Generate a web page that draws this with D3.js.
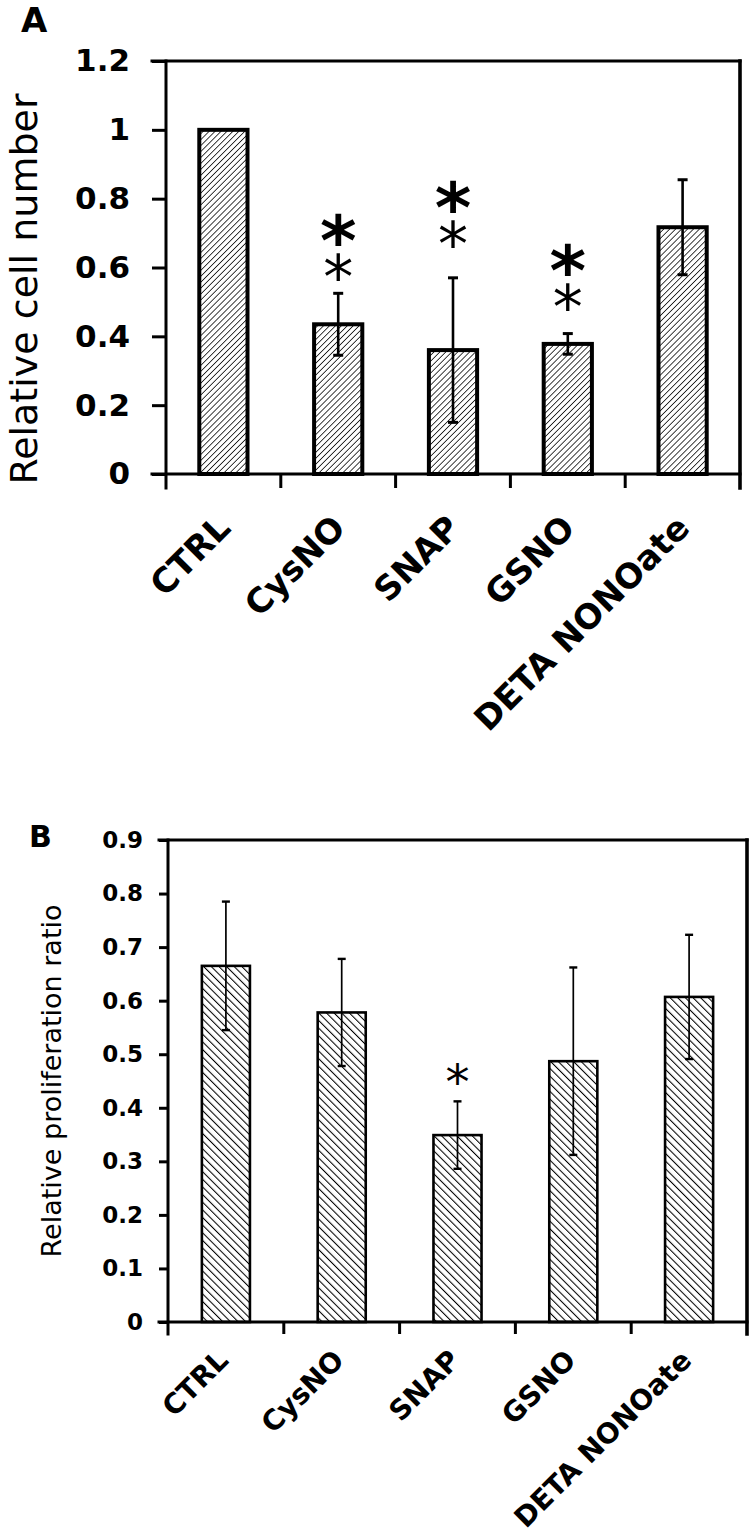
<!DOCTYPE html>
<html><head><meta charset="utf-8">
<script src="https://cdn.jsdelivr.net/npm/d3@7"></script>
<style>body{margin:0;background:#fff}svg{display:block}</style>
</head><body>
<script>
const categories = ["CTRL", "CysNO", "SNAP", "GSNO", "DETA NONOate"];

// Panel A: relative cell number
const cellNumber = [1.0, 0.435, 0.36, 0.378, 0.717];
const cellNumberErr = [0, 0.09, 0.21, 0.03, 0.138];
const cellSigStars = [0, 2, 2, 2, 0];
const cellSigLevel = [null, 0.607, 0.703, 0.52, null];
const cellTicks = [0, 0.2, 0.4, 0.6, 0.8, 1, 1.2];
const cellTickLabels = ["0", "0.2", "0.4", "0.6", "0.8", "1", "1.2"];

// Panel B: relative proliferation ratio
const prolif = [0.665, 0.578, 0.349, 0.487, 0.607];
const prolifErr = [0.12, 0.1, 0.063, 0.175, 0.116];
const prolifSigStars = [0, 0, 1, 0, 0];
const prolifSigLevel = [null, null, 0.465, null, null];
const prolifTicks = [0, 0.1, 0.2, 0.3, 0.4, 0.5, 0.6, 0.7, 0.8, 0.9];
const prolifTickLabels = ["0", "0.1", "0.2", "0.3", "0.4", "0.5", "0.6", "0.7", "0.8", "0.9"];

const W = 750, H = 1538;
const svg = d3.select("body").append("svg").attr("width", W).attr("height", H);
const defs = svg.append("defs");

function hatch(id, angle, spacing, sw) {
  const p = defs.append("pattern").attr("id", id).attr("patternUnits", "userSpaceOnUse")
    .attr("width", spacing).attr("height", spacing)
    .attr("patternTransform", `rotate(${angle})`);
  p.append("rect").attr("width", spacing).attr("height", spacing).attr("fill", "#fff");
  p.append("line").attr("x1", 0).attr("y1", 0).attr("x2", 0).attr("y2", spacing)
    .attr("stroke", "#000").attr("stroke-width", sw);
}
hatch("hatchA", 45, 4.2, 1.5);
hatch("hatchB", -45, 5.4, 2.1);

const FONT = "'DejaVu Sans', sans-serif";

function panel(cfg) {
  const g = svg.append("g").attr("transform", `translate(${cfg.left},${cfg.top})`);
  const x = d3.scaleBand().domain(categories).range([0, cfg.width])
    .paddingInner(cfg.padInner).paddingOuter(cfg.padInner / 2);
  const y = d3.scaleLinear().domain([0, cfg.max]).range([cfg.height, 0]);
  const step = x.step();

  // y axis ticks + labels
  const yAx = d3.axisLeft(y).tickValues(cfg.ticks).tickSize(cfg.yTick)
    .tickPadding(cfg.yPad).tickFormat((d, i) => cfg.tickLabels[i]);
  const ya = g.append("g").call(yAx);
  ya.select(".domain").remove();
  ya.selectAll(".tick line").attr("stroke", "#000").attr("stroke-width", cfg.axisW);
  ya.selectAll(".tick text").attr("font-family", FONT).attr("font-weight", "bold")
    .attr("font-size", cfg.yFont).attr("fill", "#000");

  // bars
  g.selectAll("rect.bar").data(cfg.values).join("rect").attr("class", "bar")
    .attr("x", (d, i) => x(categories[i]))
    .attr("y", d => y(d))
    .attr("width", x.bandwidth())
    .attr("height", d => cfg.height - y(d))
    .attr("fill", `url(#${cfg.hatch})`)
    .attr("stroke", "#000").attr("stroke-width", cfg.barW);

  // error bars
  const cx = i => x(categories[i]) + x.bandwidth() / 2;
  cfg.values.forEach((v, i) => {
    const e = cfg.errs[i];
    if (!e) return;
    const eg = g.append("g").attr("stroke", "#000").attr("stroke-width", cfg.errW);
    eg.append("line").attr("x1", cx(i)).attr("x2", cx(i)).attr("y1", y(v - e)).attr("y2", y(v + e));
    eg.append("line").attr("x1", cx(i) - cfg.cap / 2).attr("x2", cx(i) + cfg.cap / 2)
      .attr("y1", y(v + e)).attr("y2", y(v + e)).attr("stroke-width", cfg.capW);
    eg.append("line").attr("x1", cx(i) - cfg.cap / 2).attr("x2", cx(i) + cfg.cap / 2)
      .attr("y1", y(v - e)).attr("y2", y(v - e)).attr("stroke-width", cfg.capW);
  });

  // frame: x axis, y axis, top, right
  const fr = g.append("g").attr("stroke", "#000").attr("stroke-width", cfg.axisW).attr("stroke-linecap", "square");
  fr.append("line").attr("x1", -cfg.yTick).attr("x2", cfg.width).attr("y1", cfg.height).attr("y2", cfg.height);
  fr.append("line").attr("x1", -cfg.yTick).attr("x2", cfg.width).attr("y1", 0).attr("y2", 0);
  fr.append("line").attr("x1", 0).attr("x2", 0).attr("y1", 0).attr("y2", cfg.height + cfg.xTick);
  fr.append("line").attr("x1", cfg.width).attr("x2", cfg.width).attr("y1", 0).attr("y2", cfg.height + cfg.xTick)
    .attr("stroke-width", cfg.axisW + 0.6);
  d3.range(1, categories.length).forEach(k => {
    fr.append("line").attr("x1", k * step).attr("x2", k * step)
      .attr("y1", cfg.height).attr("y2", cfg.height + cfg.xTick).attr("stroke-linecap", "butt");
  });

  // x labels
  g.selectAll("text.xl").data(categories).join("text").attr("class", "xl")
    .attr("transform", d => `translate(${x(d) + x.bandwidth() / 2 + cfg.xLabDx},${cfg.height + cfg.xLabDy}) rotate(-45)`)
    .attr("text-anchor", "end").attr("font-family", FONT).attr("font-weight", "bold")
    .attr("font-size", cfg.xFont).text(d => d);

  // significance stars (one text element per bar)
  cfg.stars.forEach((n, i) => {
    if (!n) return;
    const yc = y(cfg.starLevel[i]);
    const t = g.append("text").attr("text-anchor", "middle").attr("font-family", FONT);
    if (n === 2) {
      t.append("tspan").attr("x", cx(i)).attr("y", yc - cfg.starGap + cfg.bigStar * 0.55)
        .attr("font-weight", "bold").attr("font-size", cfg.bigStar).text("*");
    }
    t.append("tspan").attr("x", cx(i)).attr("y", yc + cfg.smallStar * 0.55)
      .attr("font-weight", "normal").attr("font-size", cfg.smallStar).text("*");
  });

  // y title
  svg.append("text").attr("transform", `translate(${cfg.titleX},${cfg.titleY}) rotate(-90)`)
    .attr("text-anchor", "middle").attr("font-family", FONT).attr("font-size", cfg.titleFont)
    .text(cfg.title);

  // panel letter
  svg.append("text").attr("x", cfg.letterX).attr("y", cfg.letterY).attr("font-family", FONT)
    .attr("font-weight", "bold").attr("font-size", cfg.letterFont).text(cfg.letter);
}

panel({
  left: 166, top: 61, width: 574, height: 413, max: 1.2, padInner: 0.58,
  values: cellNumber, errs: cellNumberErr, stars: cellSigStars, starLevel: cellSigLevel,
  ticks: cellTicks, tickLabels: cellTickLabels, yTick: 14, yPad: 22, yFont: 31, axisW: 3,
  hatch: "hatchA", barW: 4, errW: 2.6, cap: 10, capW: 3, xTick: 14,
  xFont: 34, xLabDx: 9, xLabDy: 56, bigStar: 70, smallStar: 60, starGap: 39,
  title: "Relative cell number", titleX: 37, titleY: 289, titleFont: 38,
  letter: "A", letterX: 21, letterY: 32, letterFont: 34
});

panel({
  left: 168, top: 840, width: 579, height: 482, max: 0.9, padInner: 0.585,
  values: prolif, errs: prolifErr, stars: prolifSigStars, starLevel: prolifSigLevel,
  ticks: prolifTicks, tickLabels: prolifTickLabels, yTick: 9, yPad: 16, yFont: 23, axisW: 3,
  hatch: "hatchB", barW: 2.6, errW: 1.7, cap: 8, capW: 2.4, xTick: 12,
  xFont: 28, xLabDx: 4, xLabDy: 40, bigStar: 50, smallStar: 48, starGap: 30,
  title: "Relative proliferation ratio", titleX: 61, titleY: 1081, titleFont: 27,
  letter: "B", letterX: 29, letterY: 847, letterFont: 30
});
</script>
</body></html>
